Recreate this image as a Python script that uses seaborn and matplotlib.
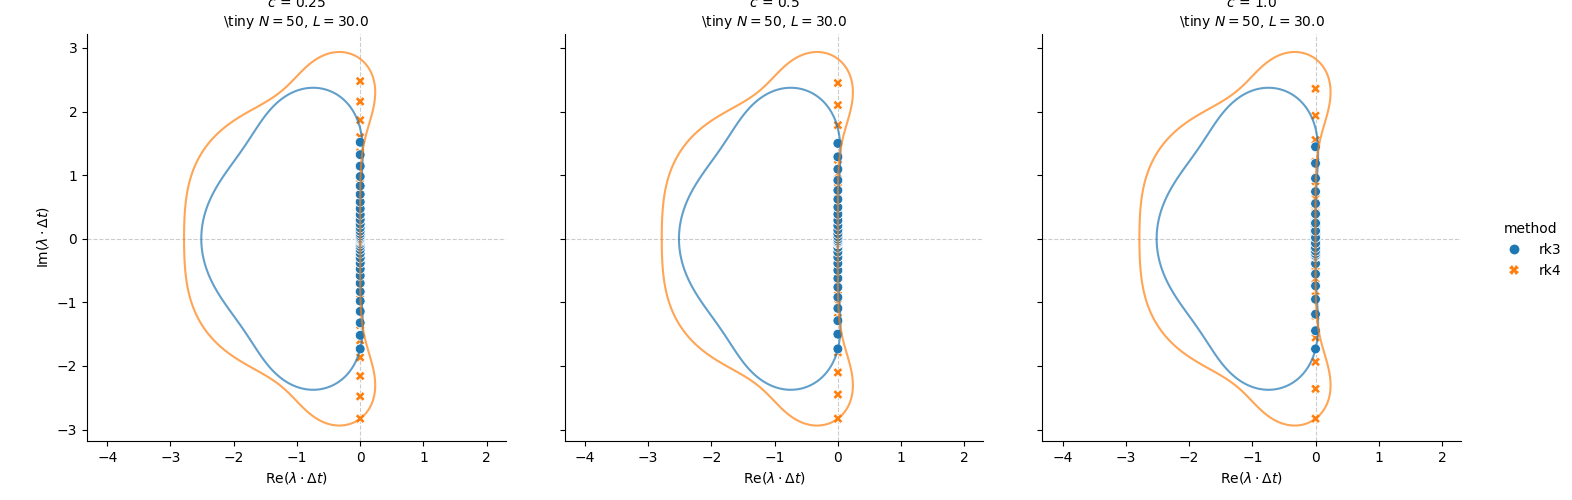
import numpy as np
import pandas as pd
import matplotlib
matplotlib.use("Agg")
import matplotlib.pyplot as plt
import seaborn as sns

# ---------------- data ----------------
c_values = [0.25, 0.5, 1.0]
methods = ["rk3", "rk4"]
N = 50
L = 30.0

# imaginary parts of lambda*dt (real parts are 0), one list per (c, method)
im_rk3_c025 = [-1.732, -1.518, -1.322, -1.142, -0.979, -0.831, -0.699, -0.580, -0.474, -0.381, -0.300,
               -0.230, -0.171, -0.121, -0.079, -0.046, -0.021, -0.002, 0.012, 0.020, 0.023, 0.023,
               0.020, 0.014, 0.008, 0.0,
               -0.008, -0.014, -0.020, -0.023, -0.023, -0.020, -0.012, 0.002, 0.021, 0.046, 0.079,
               0.121, 0.171, 0.230, 0.300, 0.381, 0.474, 0.580, 0.699, 0.831, 0.979, 1.142, 1.322, 1.518]
im_rk4_c025 = [-2.828, -2.479, -2.158, -1.865, -1.598, -1.357, -1.141, -0.947, -0.774, -0.623, -0.490,
               -0.376, -0.278, -0.197, -0.129, -0.075, -0.034, -0.002, 0.019, 0.032, 0.038, 0.037,
               0.032, 0.024, 0.012, 0.0,
               -0.012, -0.024, -0.032, -0.037, -0.038, -0.032, -0.019, 0.002, 0.034, 0.075, 0.129,
               0.197, 0.278, 0.376, 0.490, 0.623, 0.774, 0.947, 1.141, 1.357, 1.598, 1.865, 2.158, 2.479]
im_rk3_c05 = [-1.732, -1.500, -1.288, -1.094, -0.920, -0.762, -0.621, -0.496, -0.386, -0.290, -0.208,
              -0.138, -0.079, -0.032, 0.006, 0.035, 0.055, 0.068, 0.074, 0.074, 0.069, 0.060,
              0.048, 0.034, 0.017, 0.0,
              -0.017, -0.034, -0.048, -0.060, -0.069, -0.074, -0.074, -0.068, -0.055, -0.035, -0.006,
              0.032, 0.079, 0.138, 0.208, 0.290, 0.386, 0.496, 0.621, 0.762, 0.920, 1.094, 1.288, 1.500]
im_rk4_c05 = [-2.828, -2.449, -2.102, -1.787, -1.501, -1.244, -1.015, -0.810, -0.631, -0.474, -0.339,
              -0.225, -0.129, -0.052, 0.010, 0.057, 0.090, 0.110, 0.120, 0.121, 0.113, 0.099,
              0.079, 0.055, 0.028, 0.0,
              -0.028, -0.055, -0.079, -0.099, -0.113, -0.121, -0.120, -0.110, -0.090, -0.057, -0.010,
              0.052, 0.129, 0.225, 0.339, 0.474, 0.631, 0.810, 1.015, 1.244, 1.501, 1.787, 2.102, 2.449]
im_rk3_c10 = [-1.732, -1.446, -1.186, -0.951, -0.741, -0.554, -0.390, -0.246, -0.123, -0.018, 0.069,
              0.140, 0.195, 0.235, 0.262, 0.277, 0.281, 0.275, 0.260, 0.237, 0.208, 0.173,
              0.134, 0.091, 0.046, 0.0,
              -0.046, -0.091, -0.134, -0.173, -0.208, -0.237, -0.260, -0.275, -0.281, -0.277, -0.262,
              -0.235, -0.195, -0.140, -0.069, 0.018, 0.123, 0.246, 0.390, 0.554, 0.741, 0.951, 1.186, 1.446]
im_rk4_c10 = [-2.828, -2.360, -1.936, -1.553, -1.210, -0.905, -0.636, -0.402, -0.200, -0.029, 0.113,
              0.228, 0.318, 0.384, 0.428, 0.453, 0.459, 0.449, 0.424, 0.387, 0.339, 0.282,
              0.218, 0.148, 0.075, 0.0,
              -0.075, -0.148, -0.218, -0.282, -0.339, -0.387, -0.424, -0.449, -0.459, -0.453, -0.428,
              -0.384, -0.318, -0.228, -0.113, 0.029, 0.200, 0.402, 0.636, 0.905, 1.210, 1.553, 1.936, 2.360]

# stability polynomial coefficients R(z) = sum a_k z^k
rk3_coeffs = [1.0, 1.0, 1.0 / 2, 1.0 / 6]
rk4_coeffs = [1.0, 1.0, 1.0 / 2, 1.0 / 6, 1.0 / 24]

# rk4 rows first so that rk3 dots are drawn on top
series = {
    (0.25, "rk4"): im_rk4_c025, (0.25, "rk3"): im_rk3_c025,
    (0.5, "rk4"): im_rk4_c05, (0.5, "rk3"): im_rk3_c05,
    (1.0, "rk4"): im_rk4_c10, (1.0, "rk3"): im_rk3_c10,
}

rows = []
for (c, m), ims in series.items():
    for v in ims:
        rows.append({"c": c, "method": m, "re": 0.0, "im": v})
df = pd.DataFrame(rows)

# ---------------- plot ----------------
palette = {"rk3": "#1f77b4", "rk4": "#ff7f0e"}
g = sns.relplot(data=df, x="re", y="im", hue="method", style="method",
                hue_order=methods, style_order=methods, col="c", col_order=c_values,
                kind="scatter", palette=palette, height=5, aspect=1.0, s=50)
g.figure.set_size_inches(15.72, 5.0)

xs = np.linspace(-4.4, 2.4, 700)
ys = np.linspace(-3.3, 3.3, 700)
X, Y = np.meshgrid(xs, ys)
Z = X + 1j * Y

def stab(coeffs):
    R = np.zeros_like(Z)
    for k, a in enumerate(coeffs):
        R = R + a * Z ** k
    return np.abs(R)

for ax, c in zip(g.axes.flat, c_values):
    ax.axhline(0, color="gray", ls="--", lw=0.8, alpha=0.4, zorder=0)
    ax.axvline(0, color="gray", ls="--", lw=0.8, alpha=0.4, zorder=0)
    ax.contour(X, Y, stab(rk3_coeffs), levels=[1.0], colors=[palette["rk3"]],
               linewidths=1.5, alpha=0.7)
    ax.contour(X, Y, stab(rk4_coeffs), levels=[1.0], colors=[palette["rk4"]],
               linewidths=1.5, alpha=0.7)
    ax.set_xlim(-4.32, 2.30)
    ax.set_ylim(-3.18, 3.22)
    ax.set_xticks([-4, -3, -2, -1, 0, 1, 2])
    ax.set_yticks([-3, -2, -1, 0, 1, 2, 3])
    ax.set_title(f"$c$ = {c}\n\\tiny $N = {N}$, $L = {L}$", fontsize=10)
    ax.set_xlabel(r"Re$(\lambda \cdot \Delta t)$")

g.axes.flat[0].set_ylabel(r"Im$(\lambda \cdot \Delta t)$")

g.figure.subplots_adjust(left=87 / 1572, right=1461 / 1572, top=1 - 34 / 500,
                         bottom=1 - 441 / 500, wspace=0.141)
sns.move_legend(g, "center left", bbox_to_anchor=(0.946, 0.5), frameon=False)

g.figure.savefig("out.png", dpi=100)
